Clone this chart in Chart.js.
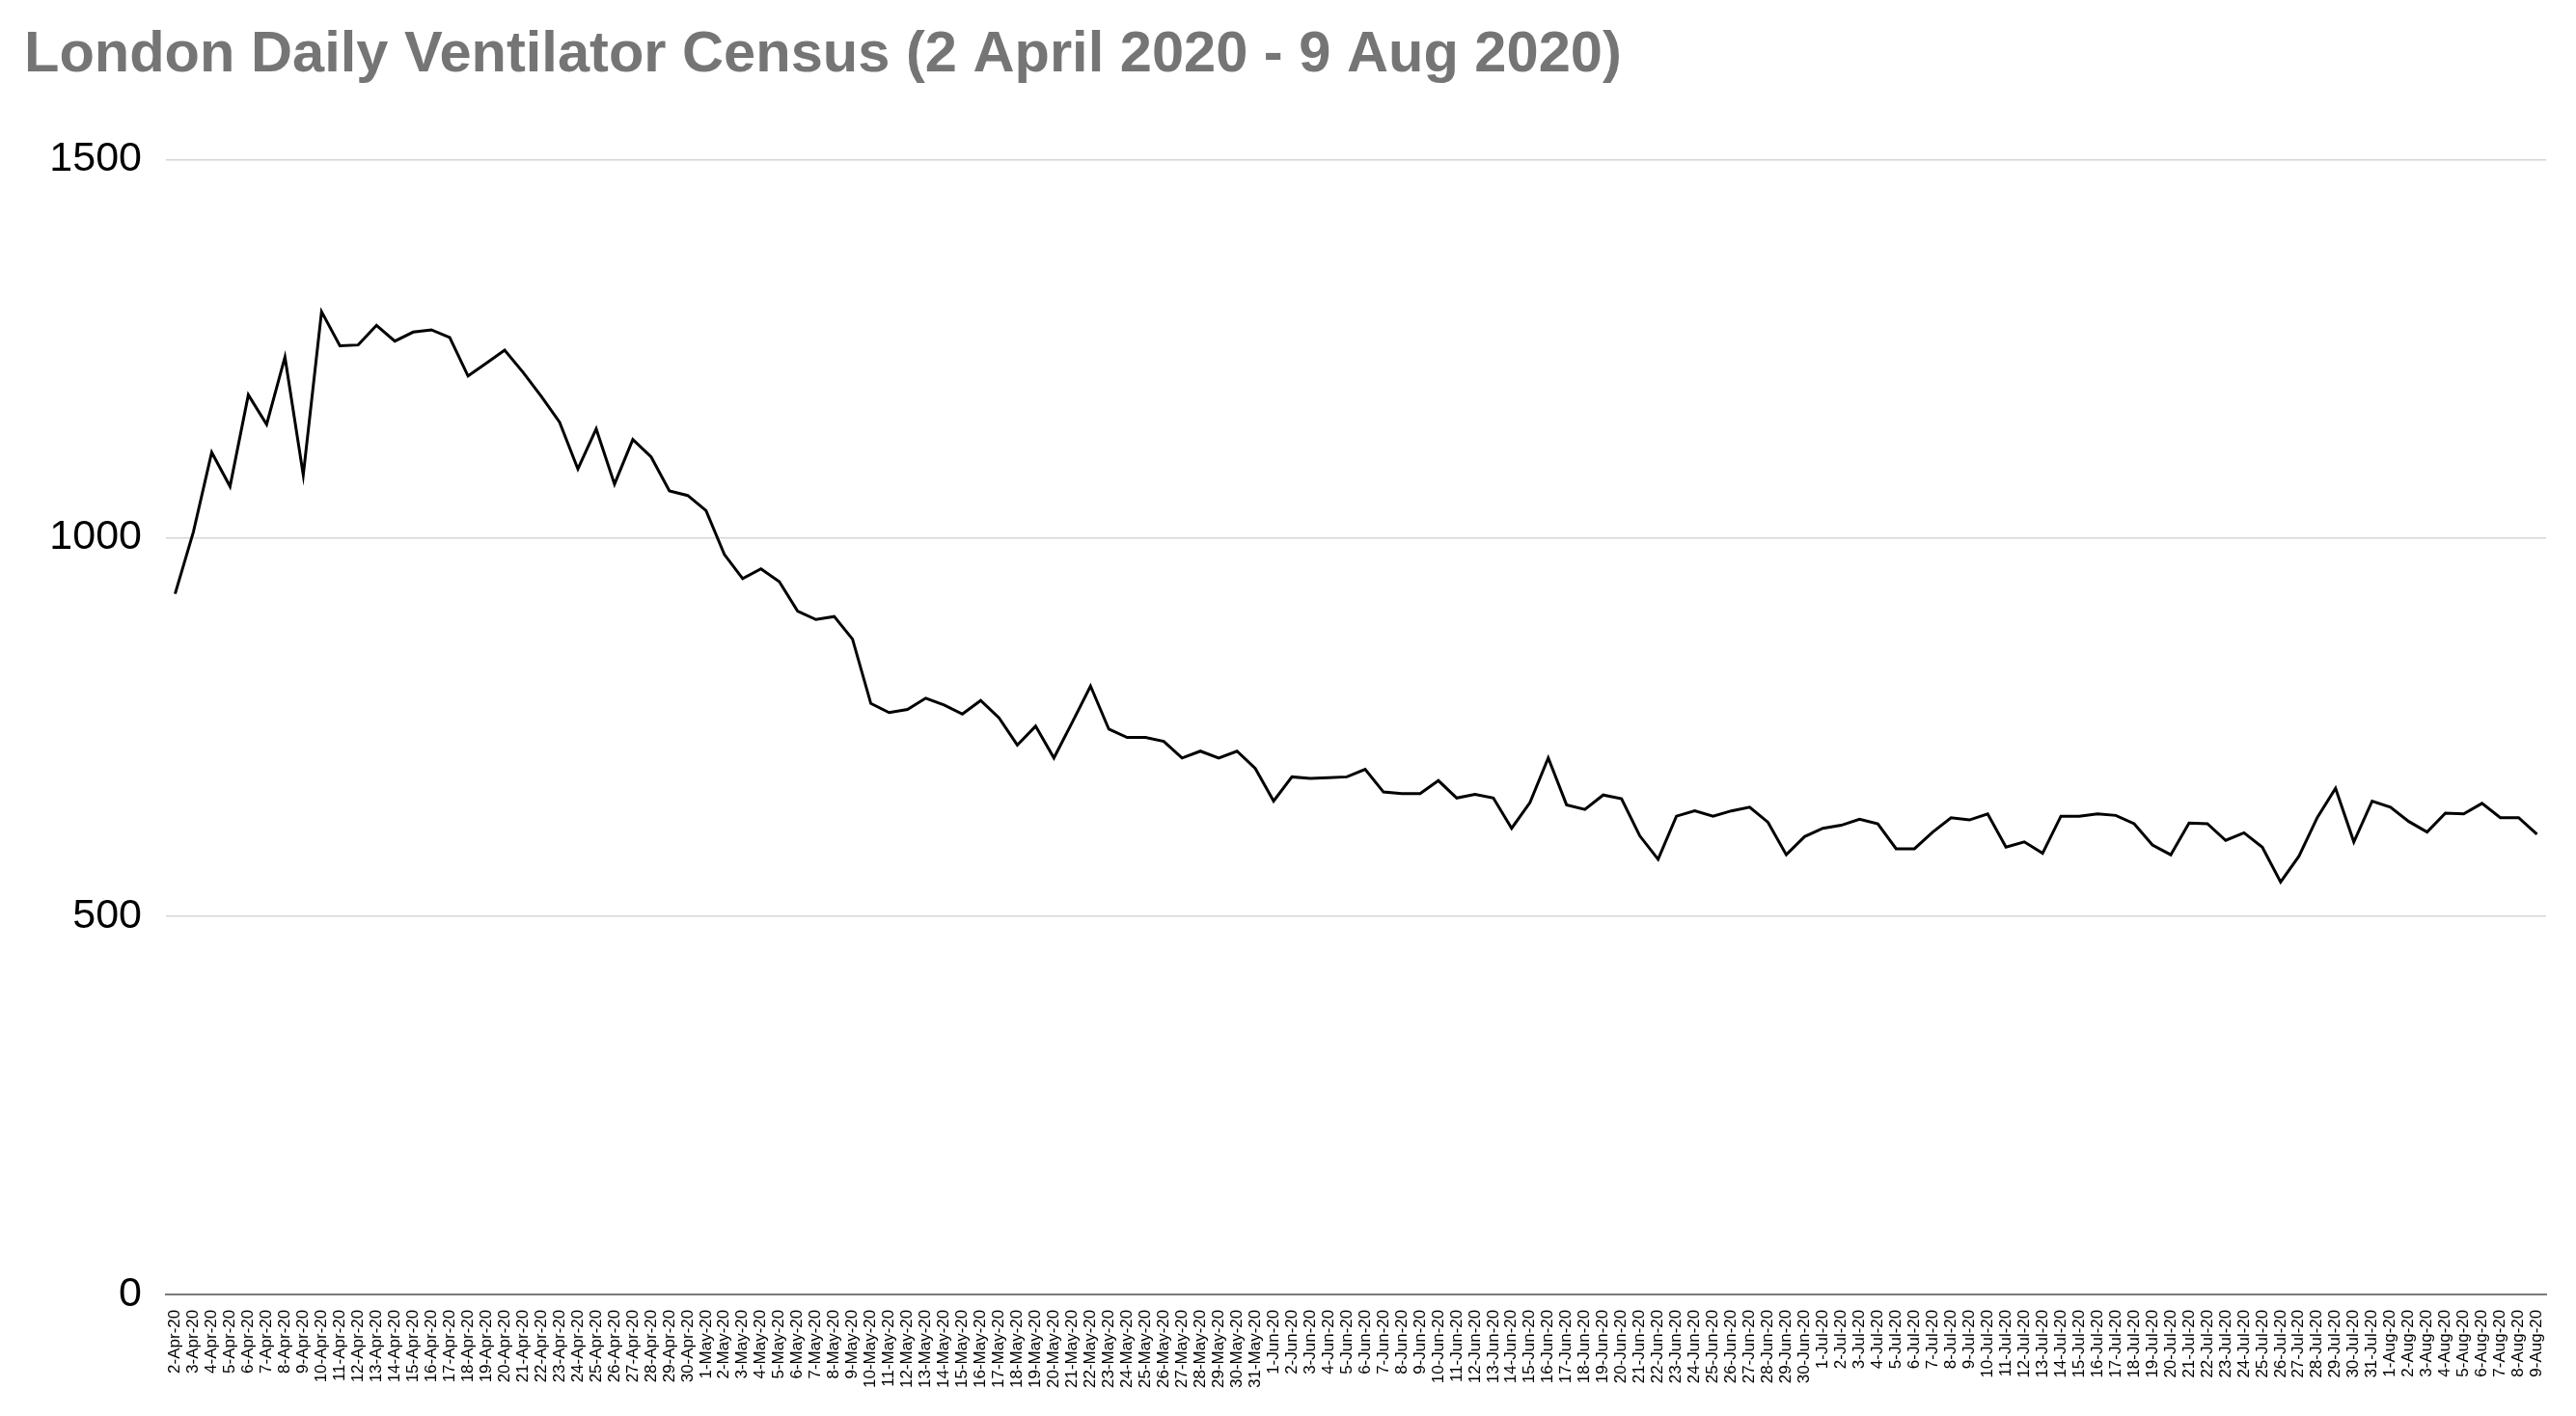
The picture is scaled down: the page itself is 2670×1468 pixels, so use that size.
<!DOCTYPE html>
<html>
<head>
<meta charset="utf-8">
<script src="https://cdn.jsdelivr.net/npm/chart.js@4"></script>
<style>
  html, body { margin: 0; padding: 0; background: #fff; }
  #wrap { width: 2670px; height: 1468px; position: relative; }
</style>
</head>
<body>
<div id="wrap"><canvas id="myChart"></canvas></div>
<script>
// dates on the x axis
const days = [
  '2-Apr-20','3-Apr-20','4-Apr-20','5-Apr-20','6-Apr-20','7-Apr-20','8-Apr-20','9-Apr-20','10-Apr-20','11-Apr-20',
  '12-Apr-20','13-Apr-20','14-Apr-20','15-Apr-20','16-Apr-20','17-Apr-20','18-Apr-20','19-Apr-20','20-Apr-20','21-Apr-20',
  '22-Apr-20','23-Apr-20','24-Apr-20','25-Apr-20','26-Apr-20','27-Apr-20','28-Apr-20','29-Apr-20','30-Apr-20',
  '1-May-20','2-May-20','3-May-20','4-May-20','5-May-20','6-May-20','7-May-20','8-May-20','9-May-20','10-May-20',
  '11-May-20','12-May-20','13-May-20','14-May-20','15-May-20','16-May-20','17-May-20','18-May-20','19-May-20','20-May-20',
  '21-May-20','22-May-20','23-May-20','24-May-20','25-May-20','26-May-20','27-May-20','28-May-20','29-May-20','30-May-20','31-May-20',
  '1-Jun-20','2-Jun-20','3-Jun-20','4-Jun-20','5-Jun-20','6-Jun-20','7-Jun-20','8-Jun-20','9-Jun-20','10-Jun-20',
  '11-Jun-20','12-Jun-20','13-Jun-20','14-Jun-20','15-Jun-20','16-Jun-20','17-Jun-20','18-Jun-20','19-Jun-20','20-Jun-20',
  '21-Jun-20','22-Jun-20','23-Jun-20','24-Jun-20','25-Jun-20','26-Jun-20','27-Jun-20','28-Jun-20','29-Jun-20','30-Jun-20',
  '1-Jul-20','2-Jul-20','3-Jul-20','4-Jul-20','5-Jul-20','6-Jul-20','7-Jul-20','8-Jul-20','9-Jul-20','10-Jul-20',
  '11-Jul-20','12-Jul-20','13-Jul-20','14-Jul-20','15-Jul-20','16-Jul-20','17-Jul-20','18-Jul-20','19-Jul-20','20-Jul-20',
  '21-Jul-20','22-Jul-20','23-Jul-20','24-Jul-20','25-Jul-20','26-Jul-20','27-Jul-20','28-Jul-20','29-Jul-20','30-Jul-20','31-Jul-20',
  '1-Aug-20','2-Aug-20','3-Aug-20','4-Aug-20','5-Aug-20','6-Aug-20','7-Aug-20','8-Aug-20','9-Aug-20'
]

// ventilator census per month
const aprCensus = [926,1008,1113,1068,1189,1150,1239,1083,1299,1254,1255,1281,1260,1272,1275,1265,1214,1231,1248,1219,1187,1153,1091,1144,1071,1130,1107,1062,1056]
const mayCensus = [1036,978,946,959,942,903,892,896,866,781,769,773,788,779,767,785,762,726,751,709,756,804,747,736,736,731,709,718,709,718,695]
const junCensus = [652,684,682,683,684,694,664,662,662,679,656,661,656,616,650,709,647,641,660,655,606,575,632,639,632,639,644,624,581,605]
const julCensus = [616,620,628,622,589,589,611,630,627,635,591,598,583,632,632,635,633,622,594,581,623,622,600,610,591,545,579,630,669,598,652]
const augCensus = [644,625,611,636,635,649,630,630,608]

const yTicks = [0, 500, 1000, 1500]

const census = aprCensus.concat(mayCensus, junCensus, julCensus, augCensus)

const fontFam = "'Liberation Sans', Arial, Helvetica, sans-serif"

const ctx = document.getElementById('myChart')
const myChart = new Chart(ctx, {
  type: 'line',
  data: {
    labels: days,
    datasets: [{
      data: census,
      borderColor: '#000',
      borderWidth: 3,
      backgroundColor: 'transparent',
      pointRadius: 0,
      tension: 0
    }]
  },
  options: {
    responsive: true,
    maintainAspectRatio: false,
    animation: false,
    devicePixelRatio: 1,
    layout: { padding: { left: 25, right: 31, top: 0, bottom: 21 } },
    plugins: {
      legend: { display: false },
      tooltip: { enabled: false },
      title: {
        display: true,
        text: 'London Daily Ventilator Census (2 April 2020 - 9 Aug 2020)',
        align: 'start',
        color: '#757575',
        font: { family: fontFam, size: 59.6, weight: 'bold' },
        padding: { top: 22, bottom: 72 }
      }
    },
    scales: {
      x: {
        offset: true,
        grid: { display: false },
        border: { display: true, color: '#7a7a7a', width: 2 },
        ticks: {
          autoSkip: false,
          maxRotation: 90,
          minRotation: 90,
          padding: 8,
          color: '#000',
          font: { family: fontFam, size: 17 }
        }
      },
      y: {
        min: 0,
        max: 1500,
        afterBuildTicks: (scale) => { scale.ticks = yTicks.map(v => ({ value: v })) },
        afterFit: (scale) => { scale.width = 147 },
        grid: { color: '#d6d6d6', lineWidth: 1.5, drawTicks: false },
        border: { display: false },
        ticks: {
          padding: 25,
          color: '#000',
          font: { family: fontFam, size: 43 },
          callback: (v) => String(v)
        }
      }
    }
  }
})
</script>
</body>
</html>
